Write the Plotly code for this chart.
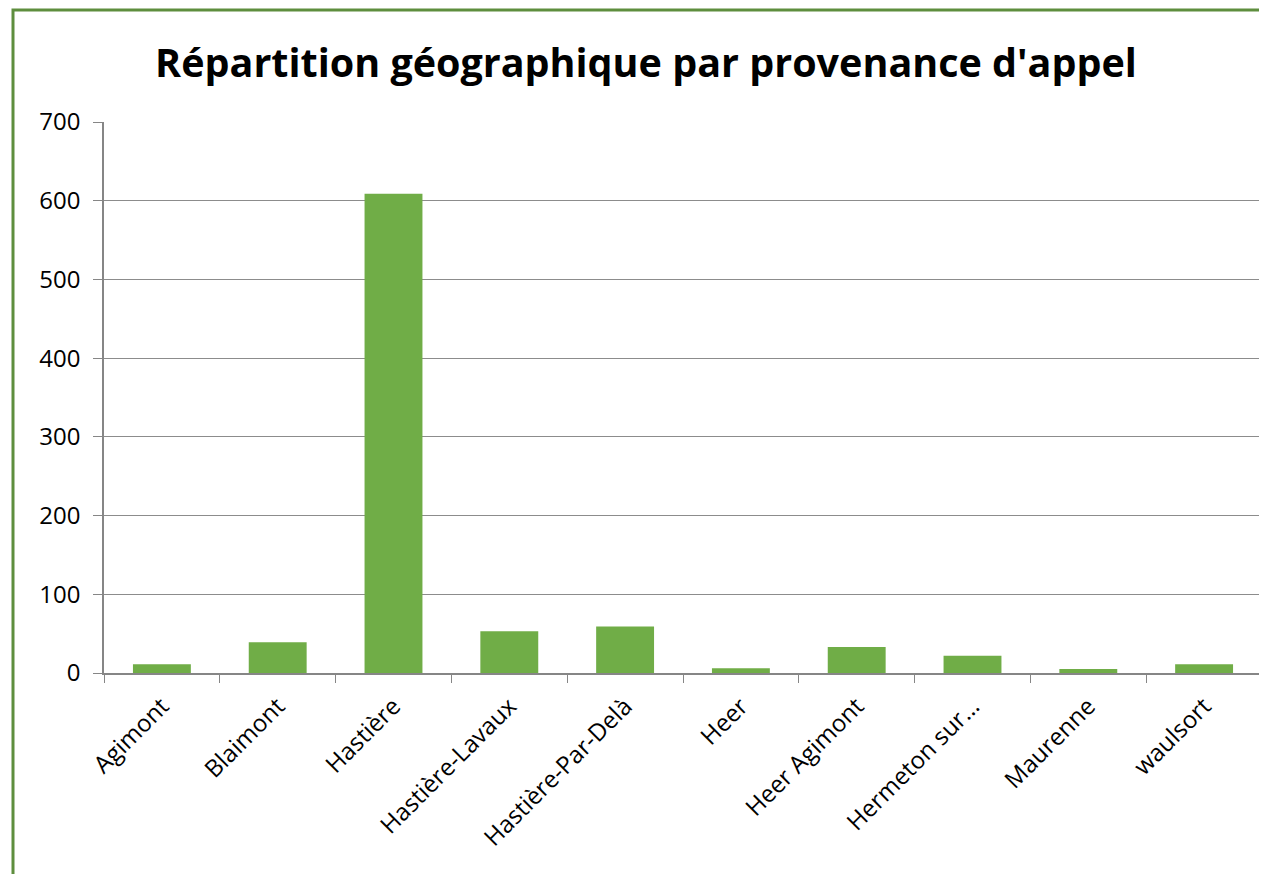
import plotly.graph_objects as go

categories = ["Agimont", "Blaimont", "Hastière", "Hastière-Lavaux", "Hastière-Par-Delà",
              "Heer", "Heer Agimont", "Hermeton sur…", "Maurenne", "waulsort"]
values = [11, 39, 609, 53, 59, 6, 33, 22, 5, 11]
y_ticks = [0, 100, 200, 300, 400, 500, 600, 700]

# the page body adds an 8px offset; work in screen pixels and convert
OFF = 8
W, H = 1267 - OFF, 874 - OFF
X0, X1, Y0, Y1 = 104 - OFF, 1262 - OFF, 122 - OFF, 673 - OFF  # plot area in figure px
L, R, T, B = X0, W - X1, Y0, H - Y1
pw = X1 - X0
ph = Y1 - Y0

def px_x(sx):
    return (sx - OFF - X0) / pw

def px_y(sy):
    return (Y1 - (sy - OFF)) / ph

FONT = "Open Sans, Lato, sans-serif"

fig = go.Figure()
fig.add_trace(go.Bar(x=categories, y=values, marker=dict(color="#70AD47", line=dict(width=0)),
                     hoverinfo="x+y"))

fig.update_layout(
    width=W, height=H,
    margin=dict(l=L, r=R, t=T, b=B, autoexpand=False),
    paper_bgcolor="white", plot_bgcolor="white",
    bargap=0.5,
    showlegend=False,
    font=dict(family=FONT, color="#000000"),
    title=dict(text="<b>Répartition géographique par provenance d'appel</b>",
               font=dict(size=39.5, family=FONT, color="#000000"),
               x=(646 - OFF) / W, xref="container", xanchor="center",
               y=1 - (63 - OFF) / H, yref="container", yanchor="middle"),
    xaxis=dict(
        tickson="boundaries", ticks="outside", ticklen=8, tickcolor="#868686",
        showline=True, linecolor="#868686", linewidth=1.5,
        tickangle=-45, tickfont=dict(size=24), ticklabelstandoff=8,
        showgrid=False, fixedrange=True,
    ),
    yaxis=dict(
        range=[0, 700], tickvals=y_ticks, ticktext=[str(v) for v in y_ticks],
        ticks="outside", ticklen=9, tickcolor="#868686",
        showline=True, linecolor="#868686", linewidth=1.5,
        showgrid=True, gridcolor="#8C8C8C", gridwidth=1,
        zeroline=False, tickfont=dict(size=24), ticklabelstandoff=8,
        fixedrange=True,
    ),
)

# chart frame (green border; right/bottom edges fall outside the view)
fig.add_shape(type="rect", xref="paper", yref="paper",
              x0=px_x(13), x1=px_x(1300), y0=px_y(910), y1=px_y(10),
              line=dict(color="#5E8E3E", width=3), fillcolor="rgba(0,0,0,0)", layer="below")

fig.write_html("out.html")
